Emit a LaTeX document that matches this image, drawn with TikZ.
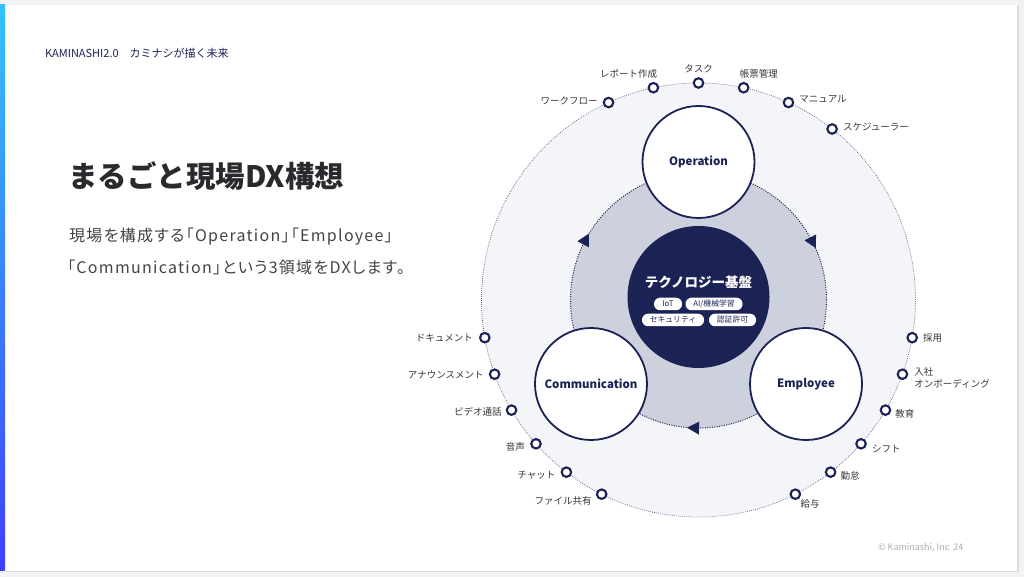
\documentclass[tikz,border=0pt]{standalone}
\usepackage{fontspec}
\setmainfont{Noto Sans CJK JP}
\newfontfamily\bodyf{Noto Sans CJK JP}[RawFeature=+palt, LetterSpace=8]
\definecolor{navy}{HTML}{1B2354}
\definecolor{ringgray}{HTML}{CDD1DE}
\definecolor{outerfill}{HTML}{F4F5F9}
\definecolor{pagebg}{HTML}{F1F2F4}
\definecolor{textdark}{HTML}{2A2A2E}
\definecolor{textbody}{HTML}{444448}
\definecolor{labgray}{HTML}{36363C}
\definecolor{footgray}{HTML}{A9ADB5}
\tikzset{
  lab/.style={inner sep=0pt, text=labgray, font=\fontsize{9.5}{12}\selectfont},
  ringdot/.style={circle, draw=navy, line width=2.1pt, fill=white, minimum size=9.5pt, inner sep=0pt},
  pillar/.style={circle, draw=navy, line width=1.8pt, fill=white, minimum size=112pt, inner sep=0pt,
     text=navy, font=\bfseries\fontsize{11.5}{13}\selectfont},
  pill/.style={rounded corners=6pt, fill=white, text=navy, inner sep=0pt, minimum height=12.5pt,
     font=\fontsize{7.8}{9}\selectfont},
  flowtri/.style={fill=navy}
}
\begin{document}
\begin{tikzpicture}[x=1pt,y=1pt]
\useasboundingbox (0,0) rectangle (1024,577);
% page and card
\fill[pagebg] (0,0) rectangle (1024,577);
\fill[black!14] (6,5) rectangle (1019,571);
\fill[white] (5,6) rectangle (1017,572);
\shade[top color=cyan!70!blue!80, bottom color=blue!75!white] (0,6) rectangle (5,572);

% left texts
\node[anchor=west, inner sep=0pt, text=navy, font=\fontsize{11}{12}\selectfont] (hdr) at (45,524) {KAMINASHI2.0　カミナシが描く未来};
\node[anchor=west, inner sep=0pt, text=textdark, font=\bfseries\fontsize{29.5}{32}\selectfont] (title) at (68,401) {まるごと現場DX構想};
\node[anchor=west, inner sep=0pt, text=textbody, font=\bodyf\fontsize{16}{20}\selectfont] (body1) at (69,340) {現場を構成する「Operation」「Employee」};
\node[anchor=west, inner sep=0pt, text=textbody, font=\bodyf\fontsize{16}{20}\selectfont] (body2) at (67,310) {「Communication」という3領域をDXします。};
\node[anchor=west, inner sep=0pt, text=footgray, font=\fontsize{9}{11}\selectfont] (foot) at (878,29) {© Kaminashi, Inc\ \ 24};

% diagram
\coordinate (O) at (698.5,277);
\fill[outerfill] (O) circle (217);
\draw[draw=navy!75, line width=0.7pt, dash pattern=on 0.7pt off 1.3pt] (O) circle (217);
\fill[ringgray] (O) circle (128);
\draw[draw=navy, line width=1pt, dash pattern=on 1pt off 1.4pt] (O) circle (128);

% center
\node[circle, fill=navy, minimum size=142pt, inner sep=0pt] (tech) at (698.5,280) {};
\node[text=white, font=\bfseries\fontsize{13.5}{15}\selectfont, inner sep=0pt] (techlab) at (698.5,295) {テクノロジー基盤};
\node[pill, minimum width=28pt] (iot) at (668,273) {IoT};
\node[pill, minimum width=57pt] (ai) at (714,273) {AI/機械学習};
\node[pill, minimum width=62pt] (sec) at (673,257) {セキュリティ};
\node[pill, minimum width=47pt] (auth) at (732.5,257) {認証許可};

% three pillars
\node[pillar] (op) at (698.5,415) {Operation};
\node[pillar] (comm) at (591,193) {Communication};
\node[pillar] (emp) at (806,193) {Employee};

% flow arrows (clockwise)
\begin{scope}[shift={(O)}, rotate=27]
  \fill[flowtri] (128,-7) -- (121.5,5) -- (134.5,5) -- cycle;
\end{scope}
\begin{scope}[shift={(O)}, rotate=268]
  \fill[flowtri] (128,-7) -- (121.5,5) -- (134.5,5) -- cycle;
\end{scope}
\begin{scope}[shift={(O)}, rotate=152]
  \fill[flowtri] (128,-7) -- (121.5,5) -- (134.5,5) -- cycle;
\end{scope}

% ring dots
\node[ringdot] (t1) at ([shift={(114.5:217)}]O) {};
\node[ringdot] (t2) at ([shift={(102:217)}]O) {};
\node[ringdot] (t3) at ([shift={(90:217)}]O) {};
\node[ringdot] (t4) at ([shift={(78:217)}]O) {};
\node[ringdot] (t5) at ([shift={(65.5:217)}]O) {};
\node[ringdot] (t6) at ([shift={(52:217)}]O) {};
\node[ringdot] (r1) at ([shift={(-10:217)}]O) {};
\node[ringdot] (r2) at ([shift={(-20:217)}]O) {};
\node[ringdot] (r3) at ([shift={(-30.5:217)}]O) {};
\node[ringdot] (r4) at ([shift={(-41.5:217)}]O) {};
\node[ringdot] (r5) at ([shift={(-52.5:217)}]O) {};
\node[ringdot] (r6) at ([shift={(-63.5:217)}]O) {};
\node[ringdot] (l1) at ([shift={(190:217)}]O) {};
\node[ringdot] (l2) at ([shift={(200:217)}]O) {};
\node[ringdot] (l3) at ([shift={(210.5:217)}]O) {};
\node[ringdot] (l4) at ([shift={(221.5:217)}]O) {};
\node[ringdot] (l5) at ([shift={(232.5:217)}]O) {};
\node[ringdot] (l6) at ([shift={(243.5:217)}]O) {};

% labels
\node[lab, anchor=east] (lt1) at ([xshift=-5pt,yshift=2pt]t1.west) {ワークフロー};
\node[lab, anchor=south east] (lt2) at ([xshift=4pt,yshift=3pt]t2.north) {レポート作成};
\node[lab, anchor=south] (lt3) at ([yshift=4pt]t3.north) {タスク};
\node[lab, anchor=south west] (lt4) at ([xshift=-4pt,yshift=3pt]t4.north) {帳票管理};
\node[lab, anchor=west] (lt5) at ([xshift=5pt,yshift=3pt]t5.east) {マニュアル};
\node[lab, anchor=west] (lt6) at ([xshift=5pt,yshift=2pt]t6.east) {スケジューラー};
\node[lab, anchor=west] (lr1) at ([xshift=5pt]r1.east) {採用};
\node[lab, anchor=west, align=left] (lr2) at ([xshift=6pt,yshift=-4pt]r2.east) {入社\\オンボーディング};
\node[lab, anchor=west] (lr3) at ([xshift=4pt,yshift=-4pt]r3.east) {教育};
\node[lab, anchor=west] (lr4) at ([xshift=5pt,yshift=-5pt]r4.east) {シフト};
\node[lab, anchor=west] (lr5) at ([xshift=4pt,yshift=-4pt]r5.east) {勤怠};
\node[lab, anchor=north west] (lr6) at ([xshift=1pt,yshift=-1pt]r6.south east) {給与};
\node[lab, anchor=east] (ll1) at ([xshift=-6pt]l1.west) {ドキュメント};
\node[lab, anchor=east] (ll2) at ([xshift=-5pt,yshift=-1pt]l2.west) {アナウンスメント};
\node[lab, anchor=east] (ll3) at ([xshift=-4pt,yshift=-2pt]l3.west) {ビデオ通話};
\node[lab, anchor=east] (ll4) at ([xshift=-5pt,yshift=-3pt]l4.west) {音声};
\node[lab, anchor=east] (ll5) at ([xshift=-5pt,yshift=-3pt]l5.west) {チャット};
\node[lab, anchor=east] (ll6) at ([xshift=-4pt,yshift=-7pt]l6.west) {ファイル共有};
\end{tikzpicture}
\end{document}
